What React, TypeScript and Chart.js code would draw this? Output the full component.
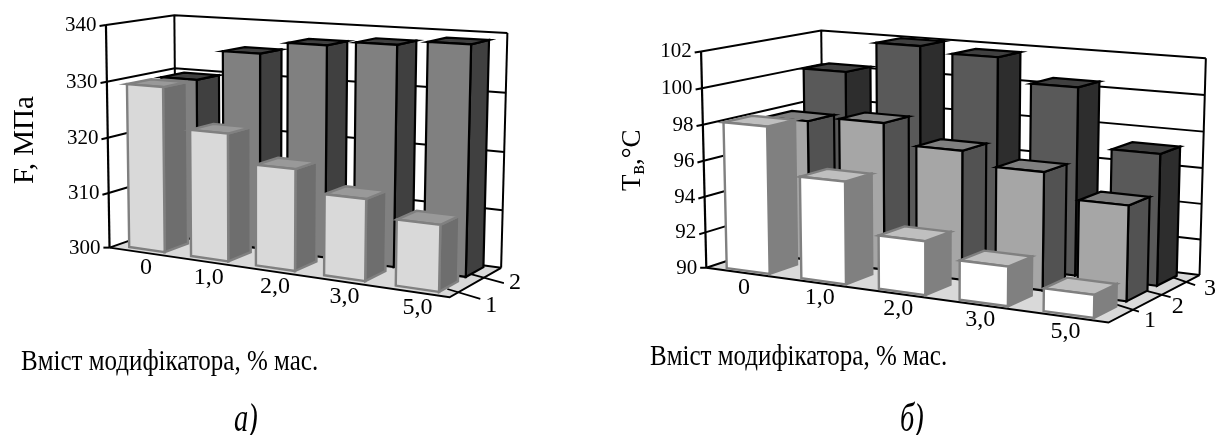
import React, { useEffect, useRef } from "react";
import { Chart, registerables } from "chart.js";
Chart.register(...registerables);

const modifierContent = ["0", "1,0", "2,0", "3,0", "5,0"];
const strengthRow1 = [329.5, 322.4, 317.5, 313.8, 311];
const strengthRow2 = [329.5, 335, 337.2, 338, 338.8];
const softeningRow1 = [98.15, 95.6, 92.9, 92.1, 91.2];
const softeningRow2 = [97.9, 98.2, 97.1, 96.4, 95.1];
const softeningRow3 = [100.2, 102, 101.7, 100.4, 97.2];
const strengthDepthLabels = ["1", "2"];
const softeningDepthLabels = ["1", "2", "3"];
const xAxisTitle = "Вміст модифікатора, % мас.";
const FONT = '"Liberation Serif"';

type P = [number, number];

// fit a 3x4 projective camera to the eight corners of the plot box
function fitCamera(c: Record<string, P>) {
  const rows: number[][] = [];
  const rhs: number[] = [];
  for (const key of Object.keys(c)) {
    const [u, v, w] = key.split("").map(Number);
    const [x, y] = c[key];
    rows.push([u, v, w, 1, 0, 0, 0, 0, -x * u, -x * v, -x * w]);
    rhs.push(x);
    rows.push([0, 0, 0, 0, u, v, w, 1, -y * u, -y * v, -y * w]);
    rhs.push(y);
  }
  const n = 11;
  const A: number[][] = Array.from({ length: n }, (_, i) =>
    Array.from({ length: n + 1 }, (_, j) => {
      let s = 0;
      rows.forEach((r, k) => (s += r[i] * (j === n ? rhs[k] : r[j])));
      return s;
    })
  );
  for (let i = 0; i < n; i++) {
    let m = i;
    for (let k = i + 1; k < n; k++) if (Math.abs(A[k][i]) > Math.abs(A[m][i])) m = k;
    [A[i], A[m]] = [A[m], A[i]];
    for (let k = 0; k < n; k++) {
      if (k === i) continue;
      const f = A[k][i] / A[i][i];
      for (let j = i; j <= n; j++) A[k][j] -= f * A[i][j];
    }
  }
  const p = A.map((r, i) => r[n] / r[i]);
  return (u: number, v: number, w: number): P => {
    const d = p[8] * u + p[9] * v + p[10] * w + 1;
    return [
      (p[0] * u + p[1] * v + p[2] * w + p[3]) / d,
      (p[4] * u + p[5] * v + p[6] * w + p[7]) / d,
    ];
  };
}

const box3d = {
  id: "box3d",
  afterDatasetsDraw(chart: any, _a: any, o: any) {
    const ctx: CanvasRenderingContext2D = chart.ctx;
    const { x: xs, y: ys } = chart.scales;
    const area = chart.chartArea;
    const cam = fitCamera(o.corners);
    const frac = (v: number) => (area.bottom - ys.getPixelForValue(v)) / (area.bottom - area.top);
    const poly = (pts: P[], fill?: string, stroke?: string, lw = 2) => {
      ctx.beginPath();
      pts.forEach((p, i) => (i ? ctx.lineTo(p[0], p[1]) : ctx.moveTo(p[0], p[1])));
      if (fill) {
        ctx.closePath();
        ctx.fillStyle = fill;
        ctx.fill();
      }
      if (stroke) {
        ctx.strokeStyle = stroke;
        ctx.lineWidth = lw;
        ctx.lineJoin = "miter";
        ctx.stroke();
      }
    };
    const rows = chart.data.datasets.length;
    ctx.save();
    // floor
    poly([cam(0, 0, 0), cam(1, 0, 0), cam(1, 1, 0), cam(0, 1, 0)], o.floor);
    // walls and grid
    ys.ticks.forEach((t: any) => {
      const w = frac(t.value);
      poly([cam(0, 0, w), cam(0, 1, w), cam(1, 1, w)], undefined, "#000");
      const a = cam(0, 0, w);
      const b = cam(0, 1, w);
      const L = Math.hypot(b[0] - a[0], b[1] - a[1]);
      const tx = a[0] - ((b[0] - a[0]) / L) * 6.5;
      const ty = a[1] - ((b[1] - a[1]) / L) * (w > 0.01 ? 6.5 : 0);
      poly([a, [tx, ty]], undefined, "#000");
      ctx.fillStyle = "#000";
      ctx.font = `${o.fontSize}px ${FONT}`;
      ctx.textAlign = "right";
      ctx.textBaseline = "middle";
      ctx.fillText(String(t.value), tx - 3, a[1] + 0.5);
    });
    poly([cam(0, 0, 1), cam(0, 0, 0)], undefined, "#000", 2.2);
    poly([cam(0, 1, 1), cam(0, 1, 0)], undefined, "#000");
    poly([cam(1, 1, 1), cam(1, 1, 0)], undefined, "#000");
    poly([cam(0, 0, 0), cam(1, 0, 0), cam(1, 1, 0)], undefined, "#000");
    // depth axis ticks and labels
    o.depthLabels.forEach((lab: string, r: number) => {
      const t = o.depthTicks[r];
      const a = cam(1, t.v, 0);
      const end: P = [a[0] + t.after, a[1] + t.after * t.slope];
      poly([[a[0] - t.before, a[1] - t.before * t.slope], end], undefined, "#000", 1.8);
      ctx.fillStyle = "#000";
      ctx.font = `${o.labelSize}px ${FONT}`;
      ctx.textAlign = "center";
      ctx.textBaseline = "middle";
      ctx.fillText(lab, end[0] + t.lx, end[1] + t.ly);
    });
    // category labels along the front edge
    chart.data.labels.forEach((lab: string, i: number) => {
      const u = (xs.getPixelForValue(i) - area.left) / (area.right - area.left);
      const p = cam(u, 0, 0);
      ctx.fillStyle = "#000";
      ctx.font = `${o.labelSize}px ${FONT}`;
      ctx.textAlign = "center";
      ctx.textBaseline = "middle";
      ctx.fillText(lab, p[0] + o.catDx, p[1] + o.catDy);
    });
    // bars, back row first
    for (let d = rows - 1; d >= 0; d--) {
      const st = o.styles[d];
      const v0 = (d + o.rowStart) / rows;
      const v1 = (d + o.rowEnd) / rows;
      chart.getDatasetMeta(d).data.forEach((el: any) => {
        const { x, y, width } = el.getProps(["x", "y", "width"], true);
        const u0 = (x - width / 2 - area.left) / (area.right - area.left);
        const u1 = (x + width / 2 - area.left) / (area.right - area.left);
        const w = (area.bottom - y) / (area.bottom - area.top);
        poly([cam(u1, v0, 0), cam(u1, v1, 0), cam(u1, v1, w), cam(u1, v0, w)], st.side, st.line, st.lw);
        poly([cam(u0, v0, w), cam(u1, v0, w), cam(u1, v1, w), cam(u0, v1, w)], st.top, st.line, st.lw);
        poly([cam(u0, v0, 0), cam(u1, v0, 0), cam(u1, v0, w), cam(u0, v0, w)], st.front, st.line, st.lw);
      });
    }
    // texts
    ctx.fillStyle = "#000";
    ctx.textBaseline = "alphabetic";
    ctx.textAlign = "left";
    ctx.save();
    ctx.translate(o.titleX[0], o.titleX[1]);
    ctx.scale(1, 1.2);
    ctx.font = `${o.titleSize}px ${FONT}`;
    ctx.fillText(xAxisTitle, 0, 0);
    ctx.restore();
    ctx.save();
    ctx.translate(o.captionAt[0], o.captionAt[1]);
    ctx.scale(0.95, 1.3);
    ctx.font = `italic ${o.captionSize}px ${FONT}`;
    ctx.fillText(o.caption, 0, 0);
    ctx.restore();
    ctx.save();
    ctx.translate(o.titleY[0], o.titleY[1]);
    ctx.rotate(-Math.PI / 2);
    let cx = 0;
    o.yTitle.forEach((part: any) => {
      ctx.font = `${part.size}px ${FONT}`;
      ctx.fillText(part.text, cx, part.dy);
      cx += ctx.measureText(part.text).width;
    });
    ctx.restore();
    ctx.restore();
  },
};

function makeChart(canvas: HTMLCanvasElement, cfg: any) {
  const H = canvas.height;
  const W = canvas.width;
  return new Chart(canvas, {
    type: "bar",
    data: {
      labels: modifierContent,
      datasets: cfg.series.map((data: number[], i: number) => ({
        label: String(i + 1),
        data,
        grouped: false,
        backgroundColor: "transparent",
        borderWidth: 0,
        categoryPercentage: 1,
        barPercentage: cfg.barPct,
      })),
    },
    plugins: [box3d],
    options: {
      responsive: false,
      animation: false,
      layout: {
        padding: { top: cfg.top, bottom: H - cfg.bottom, left: 0, right: W - cfg.right },
      },
      scales: {
        x: { display: false, offset: true },
        y: {
          min: cfg.min,
          max: cfg.max,
          ticks: { stepSize: cfg.step, display: false },
          grid: { display: false },
          border: { display: false },
          afterFit: (s: any) => {
            s.width = cfg.left;
          },
        },
      },
      plugins: { legend: { display: false }, tooltip: { enabled: false }, box3d: cfg.draw },
    } as any,
  });
}

const lightStyles = [
  { front: "#d9d9d9", side: "#6e6e6e", top: "#999999", line: "#808080", lw: 2.4 },
  { front: "#808080", side: "#404040", top: "#404040", line: "#000", lw: 2.2 },
];
const darkStyles = [
  { front: "#ffffff", side: "#808080", top: "#bfbfbf", line: "#808080", lw: 2.4 },
  { front: "#a6a6a6", side: "#525252", top: "#7f7f7f", line: "#000", lw: 2.2 },
  { front: "#595959", side: "#2d2d2d", top: "#404040", line: "#000", lw: 2.2 },
];

const panelA = {
  series: [strengthRow1, strengthRow2],
  barPct: 0.58,
  top: 24,
  bottom: 246,
  left: 110,
  right: 450,
  min: 300,
  max: 340,
  step: 10,
  draw: {
    corners: {
      "000": [110, 246], "100": [450, 298], "010": [175.5, 226], "110": [501, 267],
      "001": [105, 24], "101": [455, 48], "011": [175.5, 16], "111": [507, 31],
    },
    floor: "#d9d9d9",
    styles: lightStyles,
    rowStart: 0.2,
    rowEnd: 0.9,
    depthLabels: strengthDepthLabels,
    depthTicks: [
      { v: 0.16, before: 11, after: 22, slope: 0.3, lx: 11, ly: 7 },
      { v: 0.65, before: 14, after: 20, slope: 0.27, lx: 11, ly: 0 },
    ],
    fontSize: 21,
    labelSize: 24,
    titleSize: 25,
    captionSize: 30,
    catDx: 6,
    catDy: 16,
    titleX: [21, 370],
    titleY: [33, 184],
    yTitle: [{ text: "F, МПа", size: 29, dy: 0 }],
    caption: "а)",
    captionAt: [234, 431],
  },
};

const panelB = {
  series: [softeningRow1, softeningRow2, softeningRow3],
  barPct: 0.58,
  top: 49,
  bottom: 263,
  left: 706,
  right: 1110,
  min: 90,
  max: 102,
  step: 2,
  draw: {
    corners: {
      "000": [706, 263], "100": [1110, 324], "010": [823, 234], "110": [1199, 273],
      "001": [700, 49], "101": [1113, 91], "011": [823, 32], "111": [1205, 53],
    },
    floor: "#d9d9d9",
    styles: darkStyles,
    rowStart: 0.12,
    rowEnd: 0.8,
    depthLabels: softeningDepthLabels,
    depthTicks: [
      { v: 0.25, before: 25, after: 6, slope: 0.32, lx: 11, ly: 9 },
      { v: 0.56, before: 23, after: 9, slope: 0.26, lx: 7, ly: 10 },
      { v: 0.84, before: 16, after: 9, slope: 0.35, lx: 15, ly: 4 },
    ],
    fontSize: 21,
    labelSize: 24,
    titleSize: 25,
    captionSize: 30,
    catDx: 1,
    catDy: 15,
    titleX: [650, 365],
    titleY: [640, 191],
    yTitle: [
      { text: "Т", size: 27, dy: 0 },
      { text: "в", size: 20, dy: 4 },
      { text: ",°С", size: 27, dy: 0 },
    ],
    caption: "б)",
    captionAt: [900, 431],
  },
};

export default function App() {
  const a = useRef<HTMLCanvasElement>(null);
  const b = useRef<HTMLCanvasElement>(null);
  useEffect(() => {
    const ca = makeChart(a.current!, panelA);
    const cb = makeChart(b.current!, panelB);
    return () => {
      ca.destroy();
      cb.destroy();
    };
  }, []);
  return (
    <div style={{ position: "absolute", left: 0, top: 0, width: 1217, height: 435, background: "#fff", overflow: "hidden" }}>
      <canvas ref={a} width={1217} height={435} style={{ position: "absolute", left: 0, top: 0 }} />
      <canvas ref={b} width={1217} height={435} style={{ position: "absolute", left: 0, top: 0 }} />
    </div>
  );
}
